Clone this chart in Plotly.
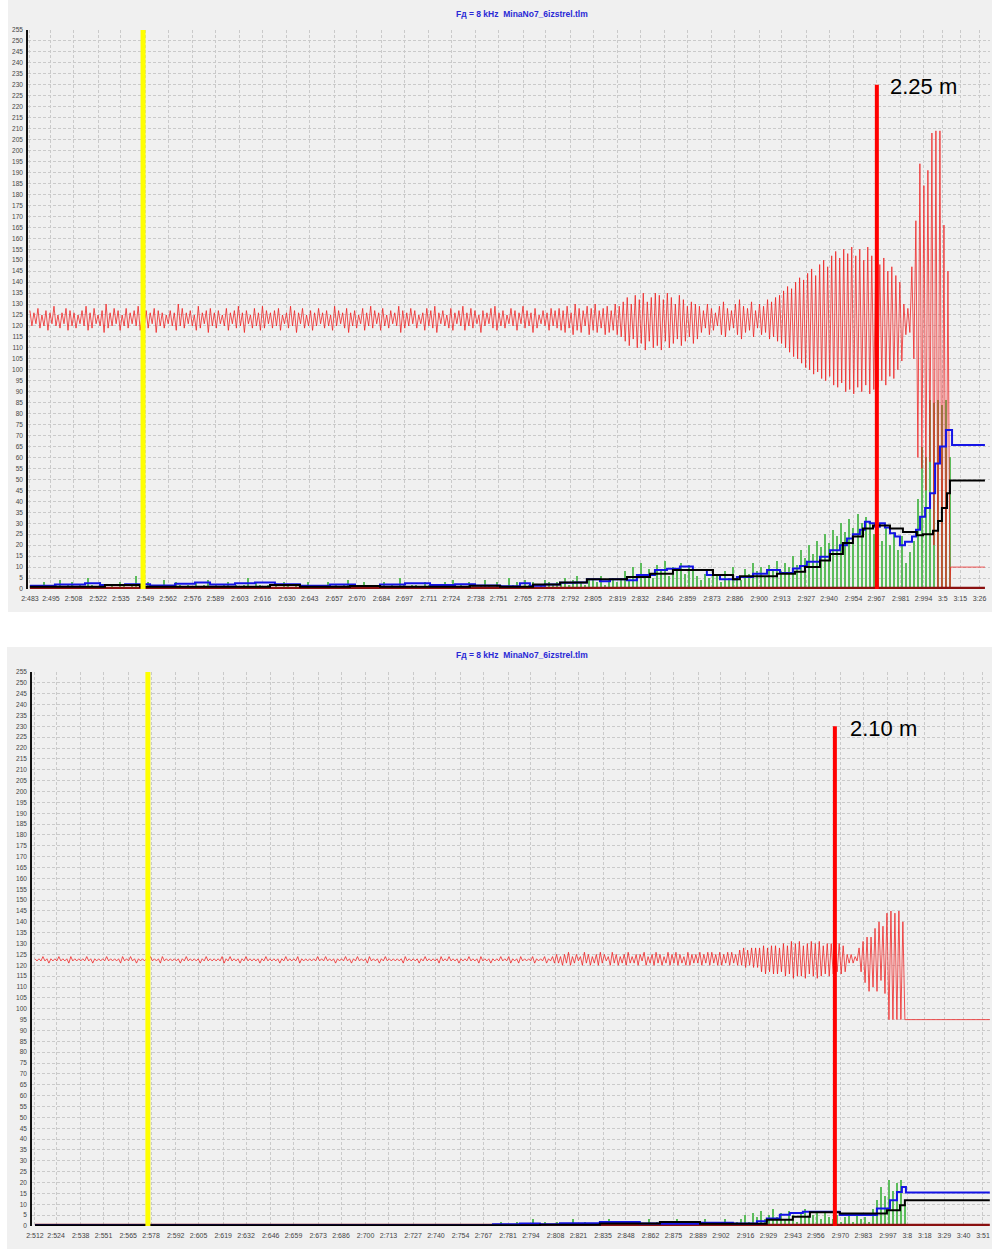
import numpy as np
import plotly.graph_objects as go

TITLE = "Fд = 8 kHz  MinaNo7_6izstrel.tlm"

# ---------------- tick labels (s:ms) ----------------
top_ticks = ["2:483","2:495","2:508","2:522","2:535","2:549","2:562","2:576","2:589","2:603",
             "2:616","2:630","2:643","2:657","2:670","2:684","2:697","2:711","2:724","2:738",
             "2:751","2:765","2:778","2:792","2:805","2:819","2:832","2:846","2:859","2:873",
             "2:886","2:900","2:913","2:927","2:940","2:954","2:967","2:981","2:994","3:5",
             "3:15","3:26"]
bot_ticks = ["2:512","2:524","2:538","2:551","2:565","2:578","2:592","2:605","2:619","2:632",
             "2:646","2:659","2:673","2:686","2:700","2:713","2:727","2:740","2:754","2:767",
             "2:781","2:794","2:808","2:821","2:835","2:848","2:862","2:875","2:889","2:902",
             "2:916","2:929","2:943","2:956","2:970","2:983","2:997","3:8","3:18","3:29",
             "3:40","3:51"]
y_ticks = list(range(0, 256, 5))

# ---------------- top panel data ----------------
top_span = (2.4830, 3.0091)          # red signal sample span (s)
red_top_hi = [
    127,126,128,125,127,126,129,125,126,128,127,126,
    125,127,129,126,128,125,127,130,126,128,127,125,
    128,126,127,129,125,127,126,128,127,126,125,127,
    126,130,128,126,127,125,129,126,127,128,126,127,
    125,128,126,127,129,126,127,125,128,126,129,127,
    126,127,128,125,126,129,127,126,128,125,127,126,
    128,126,127,125,129,127,126,128,126,127,125,128,
    126,129,127,126,128,125,127,126,129,127,126,128,
    127,125,126,128,127,129,126,127,125,128,126,127,
    129,126,128,127,125,127,126,128,129,126,127,125,
    128,127,126,129,127,126,128,125,127,126,128,127,
    128,127,129,126,130,128,127,129,128,130,127,128,129,127,130,
    129,131,133,130,134,132,135,131,133,135,134,132,135,133,130,134,132,129,131,130,
    129,127,130,128,126,129,131,128,127,130,132,129,128,131,127,130,129,132,131,133,
    134,136,138,137,140,142,141,144,146,143,148,150,147,152,154,151,155,153,156,152,155,150,156,
    152,150,148,151,145,147,143,140,
    130,128,
    147,168,194,184,191,208,209,209,166,145]
red_top_lo = [
    120,121,119,120,118,121,120,119,121,118,120,119,
    121,120,118,119,121,120,117,119,120,121,118,120,
    119,121,120,118,120,119,121,117,120,119,121,120,
    118,120,119,121,120,118,119,121,117,120,119,121,
    120,118,121,119,120,117,121,119,120,118,119,121,
    119,120,118,121,119,120,117,121,119,120,118,120,
    121,119,120,118,120,121,119,117,120,119,121,118,
    120,119,121,118,120,119,121,120,117,119,120,121,
    119,121,118,120,119,117,121,120,119,118,121,120,
    118,120,119,121,117,120,121,119,118,120,119,121,
    120,118,121,119,120,117,119,121,120,118,120,119,
    118,117,119,116,118,117,120,116,118,117,119,116,117,118,116,
    115,113,111,114,110,112,109,113,110,111,109,113,110,112,114,111,113,115,112,114,
    117,119,116,118,120,116,115,118,119,116,114,117,118,115,119,116,117,114,115,113,
    112,110,108,106,105,103,101,100,98,99,96,95,97,93,92,94,90,91,89,92,90,93,89,
    91,92,95,93,97,96,100,104,
    116,117,
    105,60,55,45,58,20,0,0,0,0]
red_top_tail_t = [3.0095, 3.0291]
red_top_tail_v = [10, 10]

green_top_span = (2.4840, 3.0090)
green_top = [
    1,2,1,3,2,1,2,4,1,2,3,1,
    2,1,5,2,1,3,2,1,2,1,3,2,
    1,2,6,1,2,3,1,2,1,4,2,1,
    3,2,1,2,1,3,1,2,4,1,2,1,
    2,3,1,2,1,2,5,1,3,2,1,2,
    1,2,1,3,2,1,2,1,2,3,1,2,
    2,1,3,1,2,1,2,4,1,2,1,3,
    1,2,1,2,3,1,2,1,5,2,1,2,
    2,1,3,2,1,2,1,3,2,4,1,2,
    1,3,2,1,2,4,2,1,3,2,1,5,
    2,3,1,4,2,3,1,2,4,3,2,3,
    3,5,2,4,6,3,2,5,4,3,6,2,4,5,3,
    5,8,4,10,6,12,7,9,5,11,8,13,6,10,9,12,7,11,8,6,
    4,7,5,9,6,3,8,5,10,6,4,9,7,12,8,10,6,11,9,13,
    8,12,10,15,11,18,14,20,16,22,19,25,21,27,24,30,26,32,28,34,30,33,31,
    25,30,22,28,20,26,18,24,
    12,17,
    22,41,65,60,86,85,86,84,86,60]

blue_top_t = [2.4830,2.4973,2.5145,2.5231,2.5374,2.5517,2.5660,2.5774,2.5860,2.6003,
              2.6117,2.6231,2.6374,2.6546,2.6689,2.6832,2.6975,2.7118,2.7261,2.7375,
              2.7518,2.7632,2.7689,2.7775,2.7861,2.7947,2.8015,2.8090,2.8147,2.8244,
              2.8301,2.8404,2.8473,2.8547,2.8621,2.8701,2.8776,2.8873,2.8965,2.9045,
              2.9119,2.9193,2.9233,2.9273,2.9348,2.9405,2.9462,2.9502,2.9536,2.9576,
              2.9605,2.9633,2.9662,2.9690,2.9719,2.9748,2.9777,2.9805,2.9834,2.9874,
              2.9897,2.9920,2.9949,2.9977,3.0006,3.0034,3.0068,3.0103,3.0291]
blue_top_v = [1.5,2.0,2.6,1.8,2.2,1.6,2.4,3.0,2.0,2.6,
              3.0,2.2,1.5,2.0,1.4,2.0,2.6,1.8,2.2,1.6,
              1.2,2.6,1.5,2.0,2.8,3.0,4.5,3.5,4.5,4.0,
              6.4,8.7,9.2,10.3,8.7,6.4,4.4,5.5,7.0,8.7,
              7.3,9.4,10.5,12.4,14.7,17.7,20.0,23.0,25.0,27.0,
              30.7,30.0,28.4,30.0,28.0,25.4,23.9,20.0,21.5,23.9,
              27.0,33.0,37.0,43.7,57.3,65.0,72.5,65.7,65.7]

black_top_t = [2.4830,2.5259,2.5459,2.6203,2.6374,2.6660,2.6832,2.7346,2.7518,2.7707,
               2.7861,2.8015,2.8244,2.8376,2.8507,2.8736,2.8850,2.8890,2.9102,2.9205,
               2.9262,2.9348,2.9405,2.9479,2.9536,2.9594,2.9651,2.9748,2.9822,2.9902,
               2.9937,2.9994,3.0023,3.0045,3.0074,3.0091,3.0291]
black_top_v = [1.0,1.8,1.0,1.8,1.0,1.4,1.0,1.5,1.0,2.0,
               3.0,4.4,5.5,7.0,8.7,6.4,4.4,5.8,7.0,7.9,
               10.0,13.0,16.0,21.0,24.0,27.6,29.0,27.6,26.0,24.5,
               25.0,26.6,31.0,37.0,43.7,49.5,49.5]

baseline_top_t = [2.4830, 3.0291]
yellow_top_t = 2.5477
marker_top_t = 2.9673
marker_top_h = 230
label_top = "2.25 m"
label_top_pos = (2.9735, 229)

# ---------------- bottom panel data ----------------
bot_span = (2.5120, 3.0066)
red_bot_hi = [
    123,123,124,123,123,123,124,123,123,124,123,123,
    123,124,123,123,123,123,124,123,123,123,124,123,
    124,123,123,123,123,124,123,123,124,123,123,123,
    123,123,124,123,123,123,123,124,123,123,123,124,
    123,124,123,123,123,124,123,123,123,123,124,123,
    123,123,123,124,123,123,124,123,123,123,123,124,
    123,124,123,123,123,123,124,123,123,124,123,123,
    124,123,123,123,124,123,123,123,123,124,123,123,
    123,123,124,123,123,123,124,123,124,123,123,123,
    123,124,123,123,124,123,123,123,123,124,123,124,
    123,123,124,123,123,124,123,123,124,123,124,
    125,124,125,126,124,125,124,126,125,124,125,126,125,124,126,125,124,125,126,124,
    125,125,126,124,125,126,125,124,126,125,126,125,124,126,125,
    125,126,125,126,126,125,126,125,126,126,125,
    127,128,127,128,128,
    128,129,128,129,129,128,
    130,129,131,130,131,129,130,131,130,131,129,130,
    130,129,130,129,
    125,125,124,
    128,131,133,133,
    137,140,138,
    144,145,144,145,140]
red_bot_lo = [
    122,122,122,121,122,122,122,122,121,122,122,122,
    122,122,121,122,122,122,122,122,122,121,122,122,
    122,121,122,122,122,122,122,121,122,122,122,122,
    121,122,122,122,122,121,122,122,122,122,122,121,
    122,122,122,121,122,122,122,122,121,122,122,122,
    122,121,122,122,122,122,121,122,122,122,122,122,
    122,122,122,121,122,122,122,121,122,122,122,121,
    122,122,121,122,122,122,122,122,121,122,122,122,
    121,122,122,122,122,121,122,122,122,122,121,122,
    122,122,122,121,122,122,121,122,122,122,122,121,
    122,121,122,122,122,121,122,122,121,122,121,
    121,120,121,120,121,122,120,121,120,121,120,121,122,120,121,120,121,120,121,121,
    120,122,120,121,120,121,120,121,120,121,120,121,120,120,121,
    121,120,121,120,121,120,120,121,120,121,120,
    120,119,120,119,119,
    117,116,117,116,116,117,
    115,116,114,115,115,114,116,115,114,115,116,115,
    116,117,116,117,
    121,121,122,
    117,112,108,110,
    108,113,107,
    95,95,95,95,95]
red_bot_tail_t = [3.0072, 3.0549]
red_bot_tail_v = [95, 95]

green_bot_span = (2.5130, 3.0066)
green_bot = [
    0,0,1,0,0,0,0,1,0,0,0,0,
    0,1,0,0,0,0,0,0,1,0,0,0,
    0,0,0,1,0,0,0,0,0,1,0,0,
    1,0,0,0,0,0,1,0,0,0,0,0,
    0,0,1,0,0,0,0,1,0,0,0,0,
    0,0,0,0,1,0,0,0,0,0,1,0,
    0,1,0,0,0,0,0,1,0,0,0,0,
    1,0,0,0,0,1,0,0,0,0,0,0,
    0,0,1,0,0,0,0,0,1,0,0,1,
    0,0,0,1,0,0,
    1,0,2,1,0,1,2,0,1,1,3,0,1,2,1,0,2,1,1,0,3,1,0,2,1,1,0,2,1,3,1,0,2,1,0,1,
    2,1,0,3,1,2,0,1,2,1,3,0,1,2,1,0,2,3,1,2,0,1,3,2,1,2,
    3,5,2,6,4,7,3,5,8,4,6,3,7,5,2,6,8,4,5,7,3,6,4,
    3,5,2,4,6,2,5,3,4,2,
    8,12,18,14,21,16,20,21,10]

blue_bot_t = [2.5120,2.7724,2.7877,2.7991,2.8105,2.8332,2.8559,2.8673,2.8901,2.9088,
              2.9225,2.9281,2.9299,2.9355,2.9412,2.9486,2.9696,2.9793,2.9907,2.9981,
              3.0021,3.0049,3.0072,3.0549]
blue_bot_v = [0.3,0.8,1.2,0.8,1.3,1.8,1.2,1.0,1.5,1.2,
              2.2,3.5,3.5,5.2,6.0,6.6,5.1,5.1,8.0,11.9,
              15.7,18.0,15.4,15.4]
black_bot_t = [2.5120,2.7991,2.8332,2.8673,2.8901,2.9281,2.9429,2.9526,2.9696,2.9964,
               3.0038,3.0066,3.0549]
black_bot_v = [0.3,0.6,1.2,1.8,1.0,2.9,4.3,6.3,5.8,7.3,
               9.6,11.9,11.9]

baseline_bot_t = [2.5120, 3.0549]
yellow_bot_t = 2.5762
marker_bot_t = 2.9668
marker_bot_h = 230
label_bot = "2.10 m"
label_bot_pos = (2.9740, 229)

# ---------------- helpers ----------------
def tick_value(lbl):
    s, ms = lbl.split(":")
    return int(s) + int(ms) / 1000.0

def zigzag(hi, lo):
    vals = []
    for a, b in zip(hi, lo):
        vals += [a, b]
    return vals

FONT = "Liberation Sans, Arial, sans-serif"
W, H = 992, 1249
RED = "rgba(238,30,30,0.85)"
GREEN = "#5cbc5c"
GRID = "#cacaca"
BAR_W = 0.00065   # bar width in seconds (~1.1 px)

fig = go.Figure()

def add_panel(xr, yr, span, hi, lo, tail_t, tail_v, gspan, gvals,
              bt, bv, kt, kv, base_t, yel_t, mk_t, mk_h):
    gt = np.linspace(gspan[0], gspan[1], len(gvals))
    fig.add_trace(go.Bar(x=gt, y=gvals, width=BAR_W, marker=dict(color=GREEN, line=dict(width=0)),
                         xaxis=xr, yaxis=yr, hoverinfo="skip"))
    rv = zigzag(hi, lo)
    rt = list(np.linspace(span[0], span[1], len(rv)))
    fig.add_trace(go.Scatter(x=rt + tail_t, y=rv + tail_v, mode="lines",
                             line=dict(color=RED, width=0.9), xaxis=xr, yaxis=yr, hoverinfo="skip"))
    fig.add_trace(go.Scatter(x=base_t, y=[0.5, 0.5], mode="lines",
                             line=dict(color="#8a1010", width=2.5), xaxis=xr, yaxis=yr))
    fig.add_trace(go.Scatter(x=bt, y=bv, mode="lines", line=dict(color="#1414e6", width=2, shape="hv"),
                             xaxis=xr, yaxis=yr))
    fig.add_trace(go.Scatter(x=kt, y=kv, mode="lines", line=dict(color="#000000", width=2, shape="hv"),
                             xaxis=xr, yaxis=yr))
    fig.add_trace(go.Scatter(x=[yel_t, yel_t], y=[0, 255], mode="lines",
                             line=dict(color="#ffff00", width=5), xaxis=xr, yaxis=yr))
    fig.add_trace(go.Scatter(x=[mk_t, mk_t], y=[0, mk_h], mode="lines",
                             line=dict(color="#ff0000", width=4), xaxis=xr, yaxis=yr))

add_panel("x", "y", top_span, red_top_hi, red_top_lo, red_top_tail_t, red_top_tail_v,
          green_top_span, green_top, blue_top_t, blue_top_v, black_top_t, black_top_v,
          baseline_top_t, yellow_top_t, marker_top_t, marker_top_h)
add_panel("x2", "y2", bot_span, red_bot_hi, red_bot_lo, red_bot_tail_t, red_bot_tail_v,
          green_bot_span, green_bot, blue_bot_t, blue_bot_v, black_bot_t, black_bot_v,
          baseline_bot_t, yellow_bot_t, marker_bot_t, marker_bot_h)

def xaxis_cfg(domain, rng, labels, anchor):
    return dict(domain=domain, range=rng, anchor=anchor, automargin=False,
                tickvals=[tick_value(l) for l in labels], ticktext=labels,
                showgrid=True, gridcolor=GRID, griddash="3px,2px", gridwidth=1,
                zeroline=False, showline=False, ticks="outside", ticklen=3,
                tickcolor="rgba(0,0,0,0)",
                tickfont=dict(family=FONT, size=7, color="#444444"))

def yaxis_cfg(domain, anchor):
    return dict(domain=domain, range=[0, 255], anchor=anchor, tickvals=y_ticks, automargin=False,
                showgrid=True, gridcolor=GRID, griddash="3px,2px", gridwidth=1,
                zeroline=False, showline=True, linecolor="#111111", linewidth=1.5,
                ticks="outside", ticklen=2, tickcolor="rgba(0,0,0,0)",
                tickfont=dict(family=FONT, size=6.5, color="#444444"))

fig.update_layout(
    width=W, height=H, margin=dict(l=0, r=0, t=0, b=0, pad=0, autoexpand=False),
    paper_bgcolor="white", plot_bgcolor="#f0f0f0", showlegend=False,
    barmode="overlay", bargap=0,
    xaxis=xaxis_cfg([28 / W, 990 / W], [2.4819, 3.0320], top_ticks, "y"),
    yaxis=yaxis_cfg([(H - 589) / H, (H - 30) / H], "x"),
    xaxis2=xaxis_cfg([32 / W, 990 / W], [2.5103, 3.0550], bot_ticks, "y2"),
    yaxis2=yaxis_cfg([(H - 1226) / H, (H - 672) / H], "x2"),
    shapes=[
        dict(type="rect", xref="paper", yref="paper", x0=8 / W, x1=1, y0=(H - 612) / H, y1=1,
             fillcolor="#f0f0f0", line=dict(width=0), layer="below"),
        dict(type="rect", xref="paper", yref="paper", x0=7 / W, x1=1, y0=0, y1=(H - 647) / H,
             fillcolor="#f0f0f0", line=dict(width=0), layer="below"),
    ],
    annotations=[
        dict(text="<b>" + TITLE + "</b>", xref="paper", yref="paper", x=522 / W, y=(H - 14) / H,
             showarrow=False, font=dict(family=FONT, size=8.5, color="#2a2ad6"),
             xanchor="center", yanchor="middle"),
        dict(text="<b>" + TITLE + "</b>", xref="paper", yref="paper", x=522 / W, y=(H - 655) / H,
             showarrow=False, font=dict(family=FONT, size=8.5, color="#2a2ad6"),
             xanchor="center", yanchor="middle"),
        dict(text=label_top, xref="x", yref="y", x=label_top_pos[0], y=label_top_pos[1],
             showarrow=False, font=dict(family=FONT, size=22, color="black"),
             xanchor="left", yanchor="middle"),
        dict(text=label_bot, xref="x2", yref="y2", x=label_bot_pos[0], y=label_bot_pos[1],
             showarrow=False, font=dict(family=FONT, size=22, color="black"),
             xanchor="left", yanchor="middle"),
    ],
)

fig.write_html("out.html", config={"displayModeBar": False},
               post_script="document.body.style.margin='0';")
